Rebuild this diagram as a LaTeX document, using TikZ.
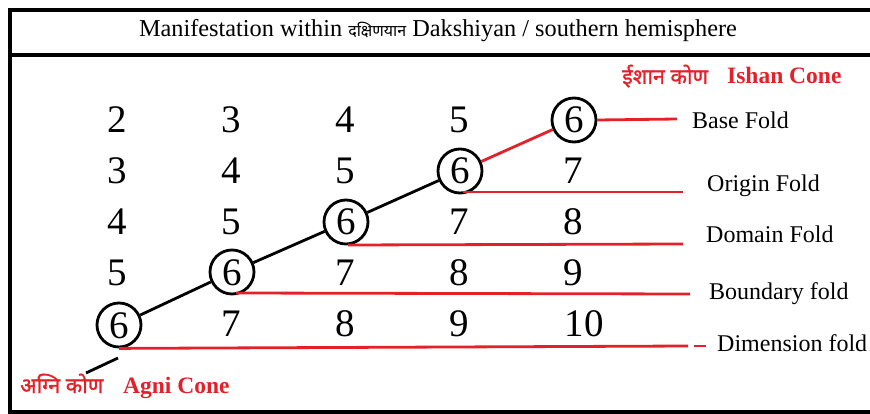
\documentclass[tikz,border=0pt]{standalone}
\usepackage{fontspec}
\setmainfont{Liberation Serif}
\newfontfamily\deva[Script=Devanagari]{Noto Sans}
\newfontfamily\devab[Script=Devanagari, FakeBold=1.2]{Noto Sans}
\definecolor{rd}{RGB}{228,32,40}
\begin{document}
\begin{tikzpicture}[x=1pt,y=-1pt,
  num/.style={font=\fontsize{39}{39}\selectfont, inner sep=0pt, text height=26pt, text depth=0pt},
  ring/.style={num, circle, draw, line width=2.8pt, minimum size=44pt},
  lab/.style={font=\fontsize{24}{24}\selectfont, anchor=base west, inner sep=0pt},
  cone/.style={font=\fontsize{23.5}{23.5}\selectfont\bfseries, text=rd, anchor=base west, inner sep=0pt},
  dv/.style={font=\devab\fontsize{21.5}{21.5}\selectfont, text=rd, anchor=base west, inner sep=0pt},
  fold/.style={draw=rd, line width=2.8pt},
  diag/.style={line width=2.8pt},
  frame/.style={line width=3.5pt}]
\useasboundingbox (0,0) rectangle (870,414);
% frame
\draw[frame] (870,10) -- (10,10) -- (10,412) -- (870,412);
\draw[frame] (10,55) -- (870,55);
\node[font=\fontsize{24.3}{24.3}\selectfont, inner sep=0pt] (title) at (438,31)
  {Manifestation within {\deva\fontsize{16}{16}\selectfont दक्षिणयान} Dakshiyan / southern hemisphere};
% row 1
\node[num] (a1) at (117,120) {2};
\node[num] (a2) at (231,120) {3};
\node[num] (a3) at (345,120) {4};
\node[num] (a4) at (459,120) {5};
\node[ring] (c1) at (574,120) {6};
% row 2
\node[num] (b1) at (117,171) {3};
\node[num] (b2) at (231,171) {4};
\node[num] (b3) at (345,171) {5};
\node[ring] (c2) at (460,171) {6};
\node[num] (b5) at (573,171) {7};
% row 3
\node[num] (d1) at (117,222) {4};
\node[num] (d2) at (231,222) {5};
\node[ring] (c3) at (346,222) {6};
\node[num] (d4) at (459,222) {7};
\node[num] (d5) at (573,222) {8};
% row 4
\node[num] (e1) at (117,272) {5};
\node[ring] (c4) at (232,272) {6};
\node[num] (e3) at (345,272) {7};
\node[num] (e4) at (459,272) {8};
\node[num] (e5) at (573,272) {9};
% row 5
\node[ring] (c5) at (119,325) {6};
\node[num] (f2) at (231,323) {7};
\node[num] (f3) at (345,323) {8};
\node[num] (f4) at (459,323) {9};
\node[num] (f5) at (584,323) {10};
% diagonal
\draw[diag] (c5) -- (c4);
\draw[diag] (c4) -- (c3);
\draw[diag] (c3) -- (c2);
\draw[fold] (c2) -- (c1);
\coordinate (t1) at (118,358);
\coordinate (t2) at (86,373);
\draw[diag] (t1) -- (t2);
% fold labels
\node[lab] (baseF) at (692,129) {Base Fold};
\node[lab] (originF) at (707,192) {Origin Fold};
\node[lab] (domainF) at (706,243) {Domain Fold};
\node[lab] (boundF) at (709,299) {Boundary fold};
\node[lab] (dimF) at (717,351) {Dimension fold};
% fold lines
\coordinate (e1r) at (677,119);
\coordinate (e2l) at (463,192);
\coordinate (e2r) at (683,192);
\coordinate (e3l) at (348,245);
\coordinate (e3r) at (683,244);
\coordinate (e4l) at (236,293);
\coordinate (e4r) at (690,294);
\coordinate (e5r) at (688,346);
\coordinate (g1) at (694,346);
\coordinate (g2) at (706,346);
\draw[fold] (c1.east) -- (e1r);
\draw[fold] (e2l) -- (e2r);
\draw[fold] (e3l) -- (e3r);
\draw[fold] (e4l) -- (e4r);
\draw[fold] (c5.south) -- (e5r);
\draw[fold] (g1) -- (g2);
% cones
\node[dv] (ishanD) at (622,84) {ईशान कोण};
\node[cone] (ishan) at (727,84) {Ishan Cone};
\node[dv] (agniD) at (20,393) {अग्नि कोण};
\node[cone] (agni) at (123,393) {Agni Cone};
\end{tikzpicture}
\end{document}
